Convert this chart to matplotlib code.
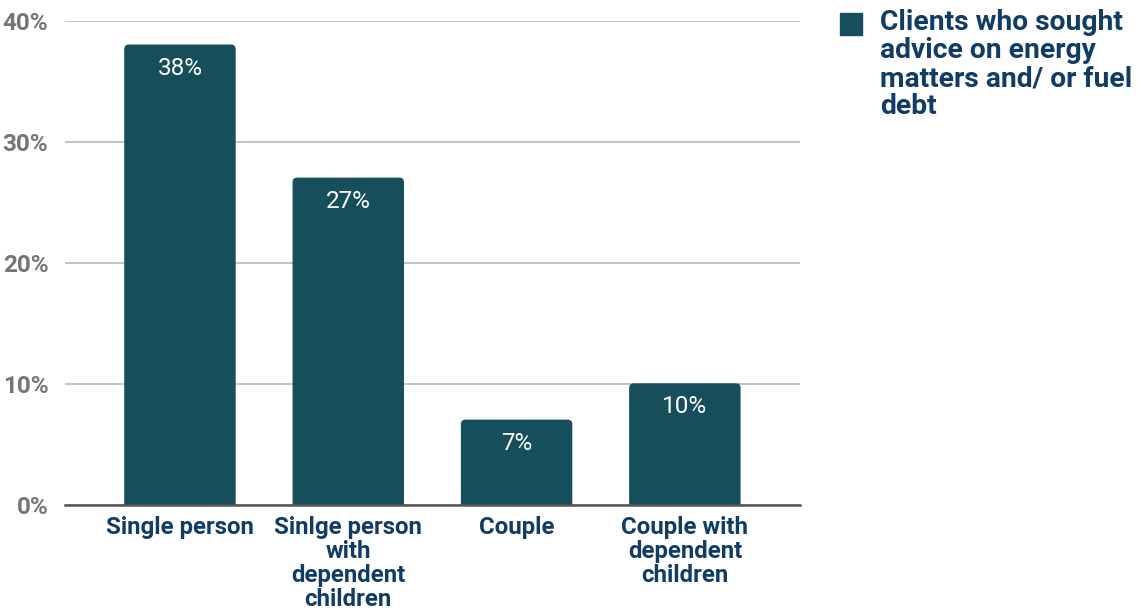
import matplotlib.pyplot as plt
from matplotlib.patches import Rectangle, FancyBboxPatch

categories = ["Single person", "Sinlge person\nwith\ndependent\nchildren", "Couple",
              "Couple with\ndependent\nchildren"]
values = [38, 27, 7, 10]
series_name = "Clients who sought\nadvice on energy\nmatters and/ or fuel\ndebt"
yticks = [0, 10, 20, 30, 40]

BAR = "#164f5b"
NAVY = "#113c66"
GREY = "#757575"

plt.rcParams["font.family"] = ["Roboto", "DejaVu Sans"]

fig = plt.figure(figsize=(11.37, 6.11), dpi=100)
ax = fig.add_axes([65 / 1137, 1 - 505 / 611, 735 / 1137, 484 / 611])
ax.set_xlim(-0.683, 3.684)
ax.set_ylim(0, 40)

x = list(range(len(values)))
bars = ax.bar(x, values, width=0.654, color=BAR, zorder=3)

# swap the plain bars for ones with slightly rounded top corners
bbox = ax.get_position()
px_x = bbox.width * fig.get_figwidth() * fig.dpi / (ax.get_xlim()[1] - ax.get_xlim()[0])
px_y = bbox.height * fig.get_figheight() * fig.dpi / (ax.get_ylim()[1] - ax.get_ylim()[0])
for b in bars:
    b.set_visible(False)
    ax.add_patch(FancyBboxPatch((b.get_x(), -1), b.get_width(), b.get_height() + 1,
                                boxstyle=f"round,pad=0,rounding_size={4 / px_x}",
                                mutation_aspect=px_x / px_y, color=BAR, zorder=3))

for b, v in zip(bars, values):
    ax.text(b.get_x() + b.get_width() / 2, v - 0.95, f"{v}%", ha="center", va="top",
            color="white", fontsize=17.5, zorder=4)

ax.set_yticks(yticks)
ax.set_yticklabels([f"{t}%" for t in yticks], color=GREY, fontsize=17.5, fontweight="bold")
ax.set_xticks(x)
ax.set_xticklabels(categories, color=NAVY, fontsize=17.3, fontweight="bold",
                   va="top", linespacing=1.06)
ax.tick_params(axis="y", length=0, pad=12)
ax.tick_params(axis="x", length=0, pad=8)

ax.grid(axis="y", color="#c3c3c3", lw=1.4, zorder=0)
for s in ["top", "right", "left"]:
    ax.spines[s].set_visible(False)
ax.spines["bottom"].set_color("#555555")
ax.spines["bottom"].set_linewidth(1.8)
ax.spines["bottom"].set_zorder(5)

# legend drawn by hand so the swatch sits on the first line
fig.patches.append(Rectangle((840 / 1137, 1 - 35 / 611), 22 / 1137, 22 / 611,
                             transform=fig.transFigure, color=BAR))
fig.text(880 / 1137, 1 - 9 / 611, series_name, ha="left", va="top", color=NAVY,
         fontsize=20.3, fontweight="bold", linespacing=1.05)

fig.savefig("out.png", dpi=100)
